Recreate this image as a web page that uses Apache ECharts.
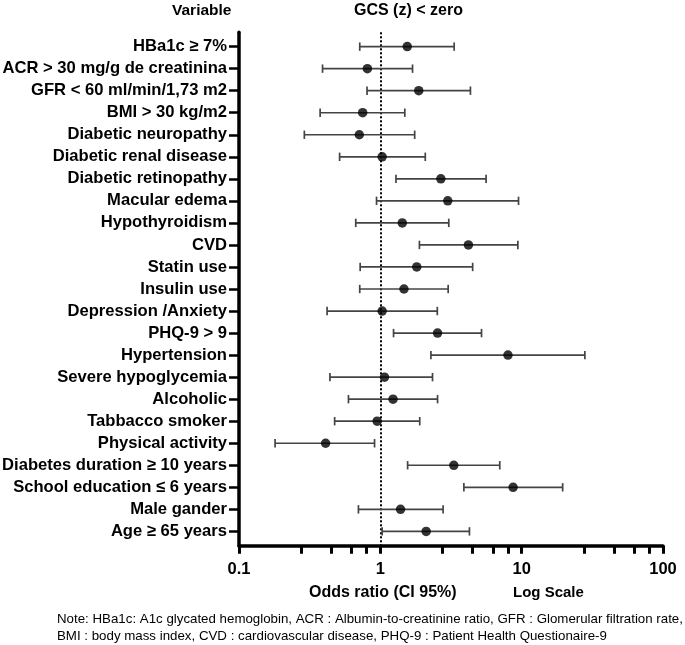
<!DOCTYPE html>
<html><head><meta charset="utf-8">
<script src="https://cdn.jsdelivr.net/npm/echarts@6/dist/echarts.min.js"></script>
<style>html,body{margin:0;padding:0;background:#fff}#c{width:685px;height:645px}</style>
</head><body><div id="c"></div>
<script>
const categories = ["HBa1c \u2265 7%","ACR > 30 mg/g de creatinina","GFR < 60 ml/min/1,73 m2","BMI > 30 kg/m2","Diabetic neuropathy","Diabetic renal disease","Diabetic retinopathy","Macular edema","Hypothyroidism","CVD","Statin use","Insulin use","Depression /Anxiety","PHQ-9 > 9","Hypertension","Severe hypoglycemia","Alcoholic","Tabbacco smoker","Physical activity","Diabetes duration \u2265 10 years","School education \u2264 6 years","Male gander","Age \u2265 65 years"];
const oddsRatio = [1.55,0.81,1.87,0.75,0.71,1.03,2.68,3.0,1.43,4.2,1.81,1.47,1.03,2.54,8.0,1.07,1.23,0.95,0.41,3.31,8.7,1.39,2.11];
const ciLow =     [0.715,0.39,0.805,0.375,0.29,0.515,1.29,0.94,0.67,1.89,0.72,0.715,0.42,1.24,2.28,0.44,0.595,0.475,0.18,1.56,3.9,0.70,1.03];
const ciHigh =    [3.33,1.69,4.34,1.49,1.75,2.08,5.6,9.5,3.05,9.4,4.5,3.02,2.53,5.2,28.0,2.34,2.54,1.9,0.91,7.0,19.5,2.78,4.27];
const majorTicks = [0.1,1,10,100];
const minorTicks = [0.275,0.45,0.625,0.8,2.75,4.5,6.25,8,27.5,45,62.5,80];

const FONT = "'Liberation Sans', Arial, sans-serif";
const idx = categories.map((_, i) => i);
const chart = echarts.init(document.getElementById('c'), null, {renderer: 'canvas'});
const grid = {left: 239, right: 22, top: 32.3, bottom: 99.3, outerBoundsMode: 'none', containLabel: false};
chart.setOption({
  animation: false,
  backgroundColor: '#fff',
  grid: grid,
  xAxis: [{
    type: 'log', logBase: 10, min: 0.1, max: 100, position: 'bottom',
    axisLine: {show: true, onZero: false, lineStyle: {color: '#000', width: 3.5}},
    axisTick: {show: true, customValues: majorTicks, length: 8, lineStyle: {color: '#000', width: 3}},
    axisLabel: {customValues: majorTicks, color: '#000', fontFamily: FONT, fontWeight: 'bold', fontSize: 16.5, margin: 15},
    splitLine: {show: false}, minorTick: {show: false}
  }, {
    type: 'log', logBase: 10, min: 0.1, max: 100, position: 'bottom',
    axisLine: {show: false, onZero: false},
    axisTick: {show: true, customValues: minorTicks, length: 8, lineStyle: {color: '#000', width: 3}},
    axisLabel: {show: false},
    splitLine: {show: false}
  }],
  yAxis: {
    type: 'value', inverse: true, min: -0.65, max: 22.65,
    axisLine: {show: true, onZero: false, lineStyle: {color: '#000', width: 3.5}},
    axisTick: {show: true, customValues: idx, length: 10, lineStyle: {color: '#000', width: 2.5}},
    axisLabel: {customValues: idx, formatter: v => categories[Math.round(v)], color: '#000', fontFamily: FONT, fontWeight: 'bold', fontSize: 16.6, margin: 12},
    splitLine: {show: false}
  },
  series: [{
    type: 'custom', xAxisIndex: 0, yAxisIndex: 0,
    data: idx.map(i => [ciLow[i], ciHigh[i], i]),
    encode: {x: [0, 1], y: 2},
    renderItem: function (params, api) {
      const y = api.value(2);
      const p1 = api.coord([api.value(0), y]);
      const p2 = api.coord([api.value(1), y]);
      const st = {stroke: '#444', lineWidth: 1.7};
      const h = 4.2;
      return {type: 'group', children: [
        {type: 'line', shape: {x1: p1[0], y1: p1[1], x2: p2[0], y2: p2[1]}, style: st},
        {type: 'line', shape: {x1: p1[0], y1: p1[1] - h, x2: p1[0], y2: p1[1] + h}, style: st},
        {type: 'line', shape: {x1: p2[0], y1: p2[1] - h, x2: p2[0], y2: p2[1] + h}, style: st}
      ]};
    },
    z: 3, silent: true
  }, {
    type: 'scatter', xAxisIndex: 0, yAxisIndex: 0,
    data: idx.map(i => [oddsRatio[i], i]),
    symbol: 'circle', symbolSize: 9.5,
    itemStyle: {color: '#000'},
    z: 5, silent: true,
    markLine: {
      silent: true, symbol: 'none', label: {show: false},
      lineStyle: {color: '#000', width: 2, type: [2, 2]},
      data: [{xAxis: 1}], z: 2
    }
  }],
  graphic: [
    {type: 'text', left: 172, top: 3, style: {text: 'Variable', font: "bold 15.5px " + FONT, fill: '#000'}},
    {type: 'text', left: 354, top: 3, style: {text: 'GCS (z) < zero', font: "bold 16px " + FONT, fill: '#000'}},
    {type: 'text', left: 309, top: 585, style: {text: 'Odds ratio (CI 95%)', font: "bold 16px " + FONT, fill: '#000'}},
    {type: 'text', left: 513, top: 585, style: {text: 'Log Scale', font: "bold 15px " + FONT, fill: '#000'}},
    {type: 'text', left: 57, top: 613, style: {text: 'Note: HBa1c: A1c glycated hemoglobin, ACR : Albumin-to-creatinine ratio, GFR : Glomerular filtration rate,', font: "13.3px 'Liberation Sans Narrow', " + FONT, fill: '#000'}},
    {type: 'text', left: 57, top: 630, style: {text: 'BMI : body mass index, CVD : cardiovascular disease, PHQ-9 : Patient Health Questionaire-9', font: "13.3px 'Liberation Sans Narrow', " + FONT, fill: '#000'}}
  ]
});
</script></body></html>
